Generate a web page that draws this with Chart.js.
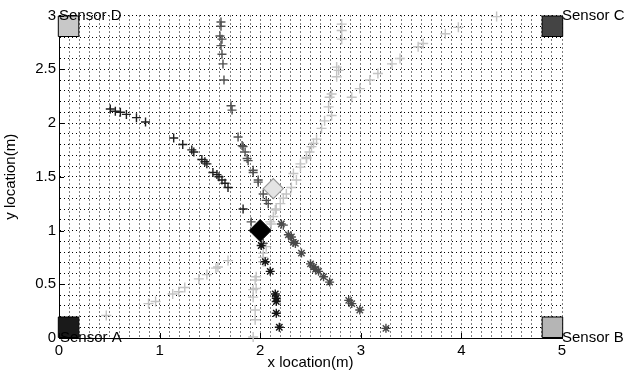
<!DOCTYPE html>
<html>
<head>
<meta charset="utf-8">
<script src="https://cdn.jsdelivr.net/npm/chart.js@4/dist/chart.umd.min.js"></script>
<style>
  html, body { margin: 0; padding: 0; background: #fff; }
  #wrap { width: 626px; height: 374px; }
</style>
</head>
<body>
<div id="wrap"><canvas id="chart"></canvas></div>
<script>
// axis labels shown at these values, grid every 0.1
const xTickLabels = [0, 1, 2, 3, 4, 5];
const yTickLabels = [0, 0.5, 1, 1.5, 2, 2.5, 3];

// sensors (centre of the square marker)
const sensorNames = ['Sensor A', 'Sensor B', 'Sensor C', 'Sensor D'];
const sensorPos = [[0.095, 0.1], [4.905, 0.1], [4.905, 2.9], [0.095, 2.9]];
const sensorColors = ['#1a1a1a', '#b5b5b5', '#444444', '#c8c8c8'];
const sensorLabelPos = [[0.01, 0], [5.0, 0], [5.0, 3.0], [0.0, 3.0]];

// true target and estimate
const targetPos = [[2.0, 1.0]];
const estimatePos = [[2.13, 1.39]];

// measurements
const blackPlus = [[0.51,2.13],[0.56,2.11],[0.61,2.10],[0.67,2.08],[0.77,2.05],[0.86,2.01],[1.14,1.86],[1.23,1.80],
  [1.32,1.75],[1.34,1.73],[1.42,1.66],[1.45,1.64],[1.47,1.62],[1.53,1.54],[1.57,1.52],[1.59,1.50],[1.62,1.47],
  [1.65,1.44],[1.68,1.40],[1.83,1.20]];
const darkPlus = [[1.61,2.94],[1.61,2.90],[1.60,2.81],[1.62,2.78],[1.61,2.72],[1.62,2.64],[1.63,2.55],[1.64,2.40],
  [1.71,2.16],[1.72,2.12],[1.78,1.87],[1.82,1.79],[1.83,1.78],[1.85,1.73],[1.87,1.67],[1.88,1.65],[1.93,1.56],
  [1.93,1.54],[1.98,1.47],[1.98,1.45],[2.03,1.34],[2.06,1.28],[2.08,1.25],[1.91,1.08],[2.03,0.88],[2.23,1.05]];
const grayStar = [[2.21,1.06],[2.28,0.96],[2.31,0.94],[2.33,0.89],[2.35,0.88],[2.41,0.79],[2.50,0.69],[2.53,0.66],
  [2.55,0.64],[2.58,0.62],[2.63,0.57],[2.69,0.52],[2.88,0.35],[2.91,0.32],[2.99,0.26],[3.25,0.09]];
const lightPlus = [[0.47,0.21],[0.89,0.32],[0.96,0.34],[1.13,0.41],[1.19,0.43],[1.25,0.47],[1.39,0.55],[1.47,0.59],
  [1.56,0.65],[1.58,0.66],[1.68,0.72],
  [2.10,1.08],[2.13,1.13],[2.15,1.19],[2.20,1.25],[2.23,1.30],[2.26,1.34],[2.31,1.40],[2.33,1.53],[2.36,1.47],
  [2.40,1.59],[2.40,1.62],[2.46,1.67],[2.46,1.68],[2.49,1.73],[2.51,1.78],[2.53,1.81],[2.56,1.85],[2.61,1.95],
  [2.64,2.02],[2.71,2.07],[2.68,2.15],[2.69,2.24],[2.71,2.27],[2.76,2.43],[2.78,2.49],[2.76,2.52],[2.81,2.78],
  [2.81,2.86],[2.81,2.92],
  [2.91,2.24],[2.99,2.32],[3.09,2.40],[3.17,2.46],[3.31,2.55],[3.39,2.60],[3.57,2.71],[3.62,2.74],[3.84,2.83],
  [3.97,2.89],[4.35,2.99],
  [1.93,0.01],[1.95,0.17],[1.95,0.26],[1.93,0.38],[1.93,0.45],[1.96,0.46],[1.95,0.54],[1.96,0.57],[2.03,0.71],
  [2.03,0.75],[2.03,0.79],[2.06,0.85],[2.11,1.06],[2.16,1.20]];
const blackStar = [[2.01,0.86],[2.05,0.71],[2.10,0.62],[2.15,0.41],[2.16,0.37],[2.16,0.34],[2.16,0.23],[2.19,0.10]];

const FONT = "'Liberation Sans', Arial, sans-serif";
const toXY = arr => arr.map(p => ({ x: p[0], y: p[1] }));

function markerSet(data, style, color, radius) {
  return {
    data: toXY(data),
    pointStyle: style,
    pointRadius: radius,
    borderColor: color,
    backgroundColor: color,
    borderWidth: 1.4,
    clip: false
  };
}

// sensor names + inward ticks
const annotate = {
  id: 'annotate',
  afterDatasetsDraw(chart) {
    const ctx = chart.ctx;
    const xs = chart.scales.x, ys = chart.scales.y;
    ctx.save();
    ctx.strokeStyle = '#000';
    ctx.lineWidth = 1;
    xTickLabels.forEach(v => {
      const px = Math.round(xs.getPixelForValue(v)) + 0.5;
      ctx.beginPath();
      ctx.moveTo(px, ys.bottom);
      ctx.lineTo(px, ys.bottom - 5);
      ctx.stroke();
    });
    yTickLabels.forEach(v => {
      const py = Math.round(ys.getPixelForValue(v)) + 0.5;
      ctx.beginPath();
      ctx.moveTo(xs.left, py);
      ctx.lineTo(xs.left + 5, py);
      ctx.stroke();
    });
    ctx.fillStyle = '#000';
    ctx.font = '15px ' + FONT;
    ctx.textAlign = 'left';
    ctx.textBaseline = 'middle';
    sensorNames.forEach((name, i) => {
      const p = sensorLabelPos[i];
      ctx.fillText(name, xs.getPixelForValue(p[0]), ys.getPixelForValue(p[1]));
    });
    ctx.restore();
  }
};

const axisFont = { family: FONT, size: 15 };

new Chart(document.getElementById('chart'), {
  type: 'scatter',
  data: {
    datasets: [
      {
        data: toXY(targetPos), pointStyle: 'rectRot', pointRadius: 11,
        backgroundColor: '#000', borderColor: '#000', borderWidth: 1, clip: false
      },
      {
        data: toXY(estimatePos), pointStyle: 'rectRot', pointRadius: 10,
        backgroundColor: '#e4e4e4', borderColor: '#9a9a9a', borderWidth: 1.2, clip: false
      },
      {
        data: toXY(sensorPos), pointStyle: 'rect', pointRadius: 14.5,
        backgroundColor: sensorColors, borderColor: '#000', borderWidth: 1, clip: false
      },
      markerSet(blackStar, 'star', '#151515', 4.5),
      markerSet(blackPlus, 'cross', '#1e1e1e', 4.5),
      markerSet(darkPlus, 'cross', '#505050', 4.5),
      markerSet(grayStar, 'star', '#4a4a4a', 4.5),
      markerSet(lightPlus, 'cross', '#c4c4c4', 5)
    ]
  },
  options: {
    responsive: true,
    maintainAspectRatio: false,
    animation: false,
    layout: { padding: { left: 0, right: 64, top: 15, bottom: 0 } },
    plugins: { legend: { display: false }, tooltip: { enabled: false } },
    scales: {
      x: {
        type: 'linear', min: 0, max: 5,
        afterFit: s => { s.height = 36; },
        // border.dash is what v4 uses for the grid line dash
        border: { display: true, color: '#000', width: 1, dash: [1, 3] },
        grid: { color: '#000', lineWidth: 1, tickLength: 0, drawTicks: false },
        ticks: {
          stepSize: 0.1, autoSkip: false, maxRotation: 0, padding: 4,
          color: '#000', font: axisFont,
          callback: v => xTickLabels.some(t => Math.abs(t - v) < 1e-6) ? String(Math.round(v)) : ''
        },
        title: { display: true, text: 'x location(m)', color: '#000', font: axisFont, padding: { top: 0, bottom: 2 } }
      },
      y: {
        type: 'linear', min: 0, max: 3,
        afterFit: s => { s.width = 59; },
        border: { display: true, color: '#000', width: 1, dash: [1, 3] },
        grid: { color: '#000', lineWidth: 1, tickLength: 0, drawTicks: false },
        ticks: {
          stepSize: 0.1, autoSkip: false, padding: 3,
          color: '#000', font: axisFont,
          callback: v => {
            const t = yTickLabels.find(t => Math.abs(t - v) < 1e-6);
            return t === undefined ? '' : String(t);
          }
        },
        title: { display: true, text: 'y location(m)', color: '#000', font: axisFont, padding: { top: 2, bottom: 0 } }
      }
    }
  },
  plugins: [annotate]
});
</script>
</body>
</html>
